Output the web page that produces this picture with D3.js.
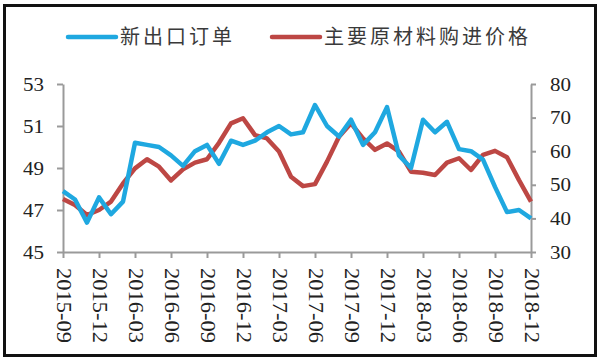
<!DOCTYPE html>
<html>
<head>
<meta charset="utf-8">
<script src="https://cdn.jsdelivr.net/npm/d3@7"></script>
<style>
  body { margin: 0; background: #fff; }
  .axis path, .axis line { stroke: #9a9a9a; stroke-width: 2px; }
  .axis text { font-family: "Liberation Serif", "Times New Roman", serif; fill: #222; }
  .legend text { font-family: "Noto Sans CJK SC", sans-serif; fill: #3a3a3a; }
</style>
</head>
<body>
<div id="chart"></div>
<script>
// monthly data, 2015-09 .. 2018-12
var months = [
  "2015-09","2015-10","2015-11","2015-12",
  "2016-01","2016-02","2016-03","2016-04","2016-05","2016-06","2016-07","2016-08","2016-09","2016-10","2016-11","2016-12",
  "2017-01","2017-02","2017-03","2017-04","2017-05","2017-06","2017-07","2017-08","2017-09","2017-10","2017-11","2017-12",
  "2018-01","2018-02","2018-03","2018-04","2018-05","2018-06","2018-07","2018-08","2018-09","2018-10","2018-11","2018-12"
];
// 新出口订单 (left axis)
var exportOrders = [47.9, 47.5, 46.4, 47.6, 46.8, 47.4, 50.2, 50.1, 50.0, 49.6,
                    49.1, 49.8, 50.1, 49.2, 50.3, 50.1, 50.3, 50.7, 51.0, 50.6,
                    50.7, 52.0, 51.0, 50.5, 51.3, 50.1, 50.7, 51.9, 49.6, 49.0,
                    51.3, 50.7, 51.2, 49.9, 49.8, 49.4, 48.1, 46.9, 47.0, 46.6];
// 主要原材料购进价格 (right axis)
var inputPrices = [45.8, 44.0, 41.0, 42.5, 45.0, 50.4, 54.9, 57.6, 55.4, 51.3,
                   54.6, 56.6, 57.6, 62.5, 68.3, 69.8, 64.8, 63.8, 59.9, 52.4,
                   49.6, 50.2, 56.9, 64.3, 68.3, 63.8, 60.4, 62.3, 59.9, 53.9,
                   53.6, 52.9, 56.6, 57.9, 54.4, 58.9, 60.1, 58.2, 51.4, 45.0];
var tickMonths = ["2015-09","2015-12","2016-03","2016-06","2016-09","2016-12","2017-03",
                  "2017-06","2017-09","2017-12","2018-03","2018-06","2018-09","2018-12"];
var leftTicks = [45, 47, 49, 51, 53];
var rightTicks = [30, 40, 50, 60, 70, 80];
var seriesNames = ["新出口订单", "主要原材料购进价格"];
var colors = ["#1fa8e0", "#bd4744"];

var totalWidth = 600, totalHeight = 363;
var plot = {left: 63, right: 531, top: 84, bottom: 252};

var svg = d3.select("#chart").append("svg")
    .attr("width", totalWidth)
    .attr("height", totalHeight);

// outer frame
svg.append("rect")
    .attr("x", 4.5).attr("y", 5.5)
    .attr("width", 591).attr("height", 350)
    .attr("fill", "none")
    .attr("stroke", "#111")
    .attr("stroke-width", 3);

// scales
var x = d3.scaleLinear().domain([0, months.length - 1]).range([plot.left, plot.right]);
var yLeft = d3.scaleLinear().domain([45, 53]).range([plot.bottom, plot.top]);
var yRight = d3.scaleLinear().domain([30, 80]).range([plot.bottom, plot.top]);

// x axis
var xAxis = d3.axisBottom(x)
    .tickValues(tickMonths.map(function(m) { return months.indexOf(m); }))
    .tickFormat(function(i) { return months[i]; })
    .tickSize(6)
    .tickSizeOuter(0);
var gx = svg.append("g")
    .attr("class", "axis")
    .attr("transform", "translate(0," + plot.bottom + ")")
    .call(xAxis);
gx.selectAll("text")
    .attr("transform", "rotate(90)")
    .attr("x", 16)
    .attr("y", 0)
    .attr("dy", "0.35em")
    .attr("text-anchor", "start")
    .attr("textLength", 75)
    .attr("lengthAdjust", "spacingAndGlyphs")
    .style("font-size", "20px");

// left axis
var gl = svg.append("g")
    .attr("class", "axis")
    .attr("transform", "translate(" + plot.left + ",0)")
    .call(d3.axisLeft(yLeft).tickValues(leftTicks).tickSize(6).tickSizeOuter(0).tickPadding(13));
gl.selectAll("text")
    .style("font-size", "19px")
    .attr("textLength", 21)
    .attr("lengthAdjust", "spacingAndGlyphs");

// right axis
var gr = svg.append("g")
    .attr("class", "axis")
    .attr("transform", "translate(" + plot.right + ",0)")
    .call(d3.axisRight(yRight).tickValues(rightTicks).tickSize(5).tickSizeOuter(0).tickPadding(14));
gr.selectAll("text")
    .style("font-size", "19px")
    .attr("textLength", 21)
    .attr("lengthAdjust", "spacingAndGlyphs");

// lines
var lineLeft = d3.line()
    .x(function(d, i) { return x(i); })
    .y(function(d) { return yLeft(d); });
var lineRight = d3.line()
    .x(function(d, i) { return x(i); })
    .y(function(d) { return yRight(d); });

svg.append("path")
    .datum(inputPrices)
    .attr("d", lineRight)
    .attr("fill", "none")
    .attr("stroke", colors[1])
    .attr("stroke-width", 4.5)
    .attr("stroke-linejoin", "round");

svg.append("path")
    .datum(exportOrders)
    .attr("d", lineLeft)
    .attr("fill", "none")
    .attr("stroke", colors[0])
    .attr("stroke-width", 4.5)
    .attr("stroke-linejoin", "round");

// legend
var legendPos = [68, 272];
var legend = svg.selectAll(".legend")
    .data(seriesNames)
    .enter().append("g")
    .attr("class", "legend")
    .attr("transform", function(d, i) { return "translate(" + legendPos[i] + ",37)"; });
legend.append("line")
    .attr("x1", 0).attr("x2", 48)
    .attr("stroke", function(d, i) { return colors[i]; })
    .attr("stroke-width", 4.5)
    .attr("stroke-linecap", "round");
legend.append("text")
    .attr("x", 52)
    .attr("dy", "0.35em")
    .style("font-size", "20px")
    .style("letter-spacing", "3px")
    .text(function(d) { return d; });
</script>
</body>
</html>
